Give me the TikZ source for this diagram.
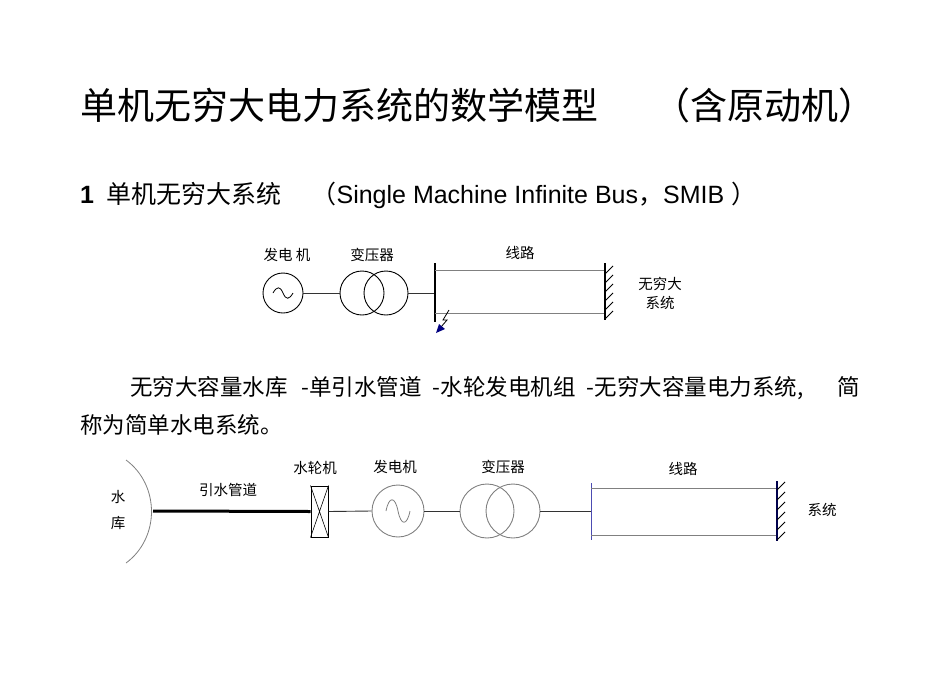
\documentclass[tikz,border=0pt]{standalone}
\usepackage{fontspec}
\setmainfont{Liberation Sans}
\newfontfamily\cjk{Noto Sans CJK SC}
\usetikzlibrary{arrows.meta}
\begin{document}
\begin{tikzpicture}[x=1pt,y=-1pt,
  lbl/.style={font=\cjk\fontsize{14.5}{17}\selectfont,inner sep=0pt},
  wire/.style={line width=0.9pt,black!80},
  gline/.style={line width=0.9pt,gray},
  eq/.style={circle,draw,line width=0.9pt,inner sep=0pt}]
\useasboundingbox (0,0) rectangle (950,672);
\node[anchor=west,inner sep=0pt,font=\cjk\fontsize{37}{40}\selectfont] (title) at (80,105) {单机无穷大电力系统的数学模型\hspace{1.5em}（含原动机）};
\node[anchor=west,inner sep=0pt,font=\fontsize{25}{28}\selectfont] (sub) at (80,195) {\textbf{1}\hspace{0.5em}{\cjk 单机无穷大系统}\hspace{1.2em}{\cjk （}Single Machine Infinite Bus{\cjk ，}SMIB\hspace{0.3em}{\cjk ）}};
% diagram 1
\node[eq,minimum size=40pt] (g1) at (283,293) {};
\draw[line width=0.8pt] (273,293) .. controls (277,286) and (280,286) .. (283,293) .. controls (286,300) and (289,300) .. (293,293);
\node[eq,minimum size=44pt] (t1a) at (362,293) {};
\node[eq,minimum size=44pt] (t1b) at (386,293) {};
\coordinate (b1) at (435,293);
\draw[wire] (g1.east) -- (t1a.west);
\draw[wire] (t1b.east) -- (b1);
\draw[line width=1.3pt] (435,263) -- (435,322);
\draw[gline] (435,270) -- (605,270);
\draw[gline] (435,313) -- (605,313);
\draw[line width=1.3pt] (605,263) -- (605,320);
\foreach \y in {266,275,284,293,302,311}{\draw[line width=0.9pt] (605,\y+8) -- (613,\y);}
\draw[line width=0.8pt] (449,310) -- (443,320) -- (447,320) -- (441,327);
\fill[blue!50!black] (436,333) -- (439,324) -- (445,329) -- cycle;
\node[lbl] (l1) at (287,255) {发电 机};
\node[lbl] (l2) at (372,255) {变压器};
\node[lbl] (l3) at (520,253) {线路};
\node[lbl,align=center] (l4) at (660,293) {无穷大\\[2pt]系统};
% paragraph
\node[anchor=west,inner sep=0pt,font=\cjk\fontsize{22.5}{26}\selectfont] (p1) at (130,388) {无穷大容量水库\hspace{0.6em}-单引水管道\hspace{0.5em}-水轮发电机组\hspace{0.5em}-无穷大容量电力系统,\hspace{1.5em}简};
\node[anchor=west,inner sep=0pt,font=\cjk\fontsize{22.5}{26}\selectfont] (p2) at (80,425) {称为简单水电系统。};
% diagram 2
\draw[gline,line width=0.8pt] (126,460) .. controls (160,485) and (160,538) .. (126,563);
\node[lbl] (s1) at (118,497) {水};
\node[lbl] (s2) at (118,523) {库};
\coordinate (pipeL) at (153,511);
\node[draw,line width=1pt,minimum width=17pt,minimum height=51pt,inner sep=0pt] (tb) at (319.5,511.5) {};
\draw[line width=0.6pt] (tb.north west) -- (tb.south east) (tb.north east) -- (tb.south west);
\draw[line width=3pt] (pipeL) -- (tb.west);
\node[eq,gray,minimum size=52pt] (g2) at (398,511) {};
\draw[gray,line width=0.8pt] (386,511) .. controls (389,496) and (395,496) .. (398,511) .. controls (401,526) and (407,526) .. (410,511);
\node[eq,gray,minimum size=54pt] (t2a) at (487,511) {};
\node[eq,gray,minimum size=54pt] (t2b) at (513,511) {};
\coordinate (b2) at (591,511);
\draw[wire] (tb.east) -- (g2.west);
\draw[wire] (g2.east) -- (t2a.west);
\draw[wire] (t2b.east) -- (b2);
\draw[line width=0.8pt,blue!40!gray] (591,483) -- (591,540);
\draw[gline] (591,488) -- (777,488);
\draw[gline] (591,535) -- (777,535);
\draw[line width=1.2pt,blue!30!black] (777,481) -- (777,541);
\foreach \y in {482,492,502,512,522,532}{\draw[line width=0.9pt] (777,\y+8) -- (785,\y);}
\node[lbl] (m1) at (228,490) {引水管道};
\node[lbl] (m2) at (315,468) {水轮机};
\node[lbl] (m3) at (395,467) {发电机};
\node[lbl] (m4) at (503,467) {变压器};
\node[lbl] (m5) at (683,469) {线路};
\node[lbl] (m6) at (822,510) {系统};
\end{tikzpicture}
\end{document}
